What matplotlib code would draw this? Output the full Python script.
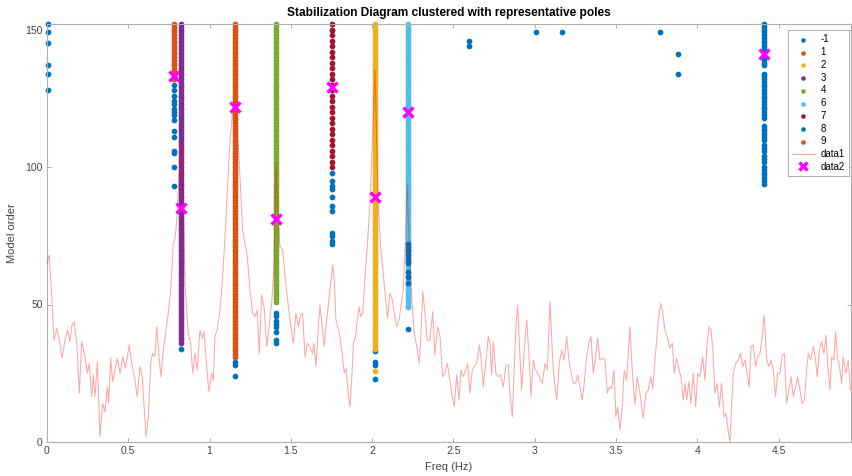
import numpy as np
import matplotlib.pyplot as plt

plt.rcParams['font.family'] = ['Liberation Sans', 'DejaVu Sans']

# cluster labels / colours (MATLAB default order, repeats after 7)
labels = ['-1', '1', '2', '3', '4', '6', '7', '8', '9']
colors = ['#0072BD', '#D95319', '#EDB120', '#7E2F8E', '#77AC30',
          '#4DBEEE', '#A2142F', '#0072BD', '#D95319']

# noise poles (label -1): frequency -> model orders
noise_freq = [0.005, 0.781, 0.824, 1.156, 1.408, 1.755, 2.017, 2.218,
              2.595, 3.01, 3.17, 3.77, 3.88, 4.411]
noise_orders = [
    [128, 134, 137, 145, 149, 152],
    [93, 100, 105, 106, 111, 113, 117, 119, 120, 121, 123, 124, 126, 128, 130],
    [34],
    [24, 28, 29],
    [36, 37, 40, 42, 43, 44, 46, 47],
    [72, 73, 75, 76, 84, 86, 89, 92, 93, 95, 98, 150],
    [23, 28, 29, 33],
    [41],
    [144, 146],
    [149],
    [149],
    [149],
    [134, 141],
    list(range(94, 101)) + list(range(102, 105)) + list(range(106, 109))
    + list(range(110, 116)) + list(range(118, 135)) + list(range(137, 153)),
]

# stable clusters: centre frequency and the model orders they span
clu_freq = {'1': 0.781, '2': 2.017, '3': 0.824, '4': 1.408,
            '6': 2.218, '7': 1.755, '8': 2.218, '9': 1.156}
clu_orders = {
    '1': list(range(132, 153)),
    '2': [26] + list(range(34, 153)),
    '3': list(range(36, 153)),
    '4': list(range(51, 153)),
    '6': list(range(49, 153)),
    '7': list(range(100, 153, 2)),
    '8': [58, 60, 62] + list(range(65, 73)),
    '9': list(range(31, 153)),
}

# representative poles
pole_freq = [0.781, 0.824, 1.156, 1.408, 1.755, 2.017, 2.218, 4.411]
pole_order = [133, 85, 122, 81, 129, 89, 120, 141]

# scaled spectrum (data1)
spec_f = [0.0, 0.014, 0.029, 0.043, 0.06, 0.076, 0.092, 0.111, 0.127, 0.141, 0.152, 0.166,
          0.183, 0.199, 0.213, 0.234, 0.248, 0.26, 0.275, 0.285, 0.295, 0.31, 0.326, 0.342,
          0.357, 0.371, 0.379, 0.392, 0.404, 0.418, 0.433, 0.449, 0.466, 0.482, 0.506, 0.521,
          0.541, 0.555, 0.572, 0.586, 0.609, 0.623, 0.638, 0.65, 0.664, 0.675, 0.689, 0.701,
          0.715, 0.732, 0.746, 0.761, 0.777, 0.787, 0.797, 0.815, 0.825, 0.835, 0.849, 0.869,
          0.884, 0.896, 0.91, 0.924, 0.941, 0.955, 0.966, 0.982, 0.996, 1.013, 1.023, 1.033,
          1.047, 1.064, 1.08, 1.095, 1.109, 1.125, 1.142, 1.155, 1.165, 1.177, 1.191, 1.203,
          1.218, 1.232, 1.248, 1.265, 1.279, 1.293, 1.306, 1.32, 1.335, 1.351, 1.365, 1.382,
          1.396, 1.408, 1.418, 1.433, 1.45, 1.464, 1.478, 1.494, 1.515, 1.531, 1.546, 1.56,
          1.572, 1.587, 1.601, 1.617, 1.632, 1.642, 1.654, 1.669, 1.679, 1.693, 1.705, 1.72,
          1.734, 1.747, 1.757, 1.767, 1.777, 1.788, 1.802, 1.816, 1.828, 1.839, 1.853, 1.863,
          1.874, 1.884, 1.898, 1.909, 1.919, 1.929, 1.942, 1.956, 1.97, 1.986, 1.997, 2.017,
          2.037, 2.052, 2.068, 2.083, 2.095, 2.109, 2.124, 2.136, 2.151, 2.165, 2.177, 2.191,
          2.205, 2.215, 2.232, 2.247, 2.259, 2.274, 2.29, 2.3, 2.311, 2.325, 2.339, 2.355,
          2.372, 2.386, 2.403, 2.417, 2.434, 2.448, 2.462, 2.478, 2.493, 2.505, 2.52, 2.534,
          2.546, 2.56, 2.575, 2.587, 2.601, 2.616, 2.628, 2.643, 2.659, 2.673, 2.683, 2.698,
          2.714, 2.725, 2.735, 2.745, 2.761, 2.776, 2.79, 2.806, 2.823, 2.837, 2.847, 2.862,
          2.874, 2.884, 2.895, 2.905, 2.919, 2.934, 2.95, 2.964, 2.977, 2.991, 3.005, 3.018,
          3.032, 3.046, 3.063, 3.077, 3.094, 3.108, 3.12, 3.135, 3.151, 3.166, 3.18, 3.196,
          3.21, 3.223, 3.237, 3.251, 3.264, 3.278, 3.292, 3.304, 3.319, 3.333, 3.346, 3.36,
          3.374, 3.387, 3.401, 3.418, 3.432, 3.446, 3.458, 3.473, 3.487, 3.499, 3.51, 3.524,
          3.538, 3.55, 3.565, 3.585, 3.602, 3.616, 3.63, 3.647, 3.667, 3.684, 3.698, 3.713,
          3.725, 3.745, 3.76, 3.774, 3.787, 3.801, 3.815, 3.831, 3.846, 3.858, 3.873, 3.887,
          3.899, 3.913, 3.924, 3.934, 3.948, 3.961, 3.975, 3.99, 4.002, 4.016, 4.033, 4.047,
          4.057, 4.071, 4.084, 4.094, 4.108, 4.122, 4.135, 4.149, 4.164, 4.176, 4.186, 4.2,
          4.211, 4.221, 4.237, 4.252, 4.266, 4.279, 4.293, 4.307, 4.319, 4.33, 4.344, 4.358,
          4.371, 4.385, 4.399, 4.411, 4.426, 4.44, 4.453, 4.467, 4.481, 4.494, 4.508, 4.522,
          4.535, 4.549, 4.563, 4.576, 4.59, 4.604, 4.617, 4.631, 4.645, 4.658, 4.672, 4.682,
          4.697, 4.713, 4.727, 4.737, 4.75, 4.764, 4.779, 4.791, 4.801, 4.815, 4.826, 4.84,
          4.85, 4.862, 4.877, 4.887, 4.897, 4.914, 4.928, 4.942]
spec_a = [65, 68, 52.8, 37, 41.4, 37, 30.5, 37, 40.7, 36.5, 42, 43.8,
          36, 17.8, 36.5, 31, 25, 28.6, 16.5, 24.4, 16.5, 29.2, 1.9, 14,
          11, 20, 14, 30.4, 22, 26.2, 30.4, 25, 31, 26.8, 35.3, 28.6,
          22.5, 16.5, 27.4, 23.7, 1.9, 9.2, 28.6, 32.2, 31, 42, 31, 23.7,
          33.5, 40.7, 46.8, 55.3, 72.2, 74, 79.6, 100, 108.7, 95, 57.7, 39,
          35.9, 25, 32.4, 26.2, 40.7, 37.7, 40.1, 27.4, 18.3, 25, 22.5, 38.3,
          40.7, 48, 60, 74.7, 91.6, 108.6, 120.7, 124, 118, 107.4, 91.6, 77,
          72.2, 67.4, 55.3, 46.8, 45.6, 48, 32.2, 53.5, 49.2, 34.7, 41.9, 50.4,
          65, 101.3, 85, 71, 69.8, 60, 52.8, 44.4, 35.9, 46.8, 41.9, 46.2,
          46.8, 31, 35.9, 34.7, 32.2, 35.9, 27.4, 41.9, 49.8, 41.9, 34.7, 44.4,
          51.6, 58.9, 64.4, 58.9, 44.4, 41.9, 38.3, 32.2, 25, 26.8, 17.7, 12.8,
          22.5, 35.9, 38.3, 44.4, 49.2, 45.6, 46.8, 60, 71, 86.8, 102.5, 135.3,
          86.8, 71, 61.3, 51.6, 45, 54, 51.6, 46.8, 41.9, 44.4, 49.2, 55.3,
          75, 93.5, 66.2, 49.2, 39.5, 34.7, 28.6, 39.5, 54.7, 46.8, 37, 37,
          47.4, 31.6, 41.9, 38.3, 23.7, 25, 28.6, 22.5, 16.5, 12.8, 24.4, 15.3,
          26.2, 23.7, 26.2, 28.6, 17.7, 26.2, 27.4, 28.6, 35.3, 28.6, 20, 28.6,
          38.3, 35.9, 24.4, 36.5, 25, 23.7, 24.4, 20, 28, 28, 17.7, 9.2,
          27.4, 41.9, 49.8, 35.9, 18.9, 32.2, 44.4, 32.2, 16.5, 29.8, 26.2, 25,
          23.2, 21.3, 28.6, 26.2, 51, 32.2, 22.5, 15.3, 28.6, 33.5, 29.8, 38.3,
          29.8, 25, 21.3, 21.3, 24.4, 20, 15.3, 21.3, 31, 35.9, 38.3, 25,
          31, 37.7, 29.8, 30.4, 29.8, 17.7, 20, 19.5, 26.2, 9.2, 12.8, 4.4,
          12.8, 26.2, 22.5, 41.9, 23.7, 13.5, 23.7, 17.7, 8.6, 17.7, 18.9, 23.7,
          19.5, 33.5, 44.4, 50.4, 46.8, 40.7, 38.3, 34.1, 35.9, 25, 30.4, 26.2,
          23.7, 15.3, 21.3, 15.3, 22, 14, 25, 12.8, 25, 23.7, 31, 22.5,
          33.5, 41.9, 40.7, 34.7, 17.7, 21.3, 12.8, 21.3, 9.2, 10.4, 5.6, 0.1,
          12.8, 25, 28.6, 29.8, 32.2, 27.4, 29.8, 25, 20, 34.7, 35.3, 27.4,
          31, 32.2, 38.3, 46.2, 29.8, 27.4, 29.8, 26.2, 16.5, 25, 25, 31.6,
          32.2, 14, 18.9, 23.7, 16.5, 20, 23.7, 18.9, 14, 15.3, 26.2, 32.2,
          29.8, 34.7, 29.8, 23.7, 33.5, 36.5, 32.2, 38.9, 28.6, 18.9, 31, 29.8,
          40.1, 31, 26.2, 21.3, 31, 25, 29.8, 18.9]

fig = plt.figure(figsize=(8.52, 4.76), dpi=100)
ax = fig.add_axes([47 / 852, 1 - 442 / 476, 804 / 852, 418 / 476])

dot = 17
for lab, col in zip(labels, colors):
    if lab == '-1':
        fx = [f for f, o in zip(noise_freq, noise_orders) for _ in o]
        oy = [v for o in noise_orders for v in o]
    else:
        oy = clu_orders[lab]
        fx = [clu_freq[lab]] * len(oy)
    ax.scatter(fx, oy, s=dot, c=col, linewidths=0, label=lab, clip_on=False,
               zorder=3 if lab == '8' else 2)

ax.plot(spec_f, spec_a, color='red', alpha=0.35, lw=0.75, label='data1', zorder=4)
ax.plot(pole_freq, pole_order, 'x', color='magenta', ms=7.5, mew=2.4,
        label='data2', zorder=5, clip_on=False)

ax.set_xlim(0, 4.945)
ax.set_ylim(0, 152)
ax.set_xticks([0, 0.5, 1, 1.5, 2, 2.5, 3, 3.5, 4, 4.5])
ax.set_xticklabels(['0', '0.5', '1', '1.5', '2', '2.5', '3', '3.5', '4', '4.5'])
ax.set_yticks([0, 50, 100, 150])
ax.tick_params(direction='in', top=True, right=True, length=3, width=0.6,
               color='#a0a0a0', labelsize=7.5, labelcolor='#444444', pad=3)
for sp in ax.spines.values():
    sp.set_color('#b0b0b0')
    sp.set_linewidth(0.8)

ax.set_xlabel('Freq (Hz)', fontsize=8, color='#444444', labelpad=4)
ax.set_ylabel('Model order', fontsize=8, color='#444444', labelpad=6)
ax.set_title('Stabilization Diagram clustered with representative poles',
             fontsize=8.6, fontweight='bold', pad=6)

leg = ax.legend(loc='upper right', bbox_to_anchor=(1.0, 0.99), fontsize=7,
                fancybox=False, edgecolor='#a0a0a0', framealpha=1,
                markerscale=0.8, labelspacing=0.28, handlelength=2.3,
                handletextpad=0.6, borderpad=0.45, borderaxespad=0.2)
leg.get_frame().set_linewidth(0.6)

fig.savefig('out.png', dpi=100)
